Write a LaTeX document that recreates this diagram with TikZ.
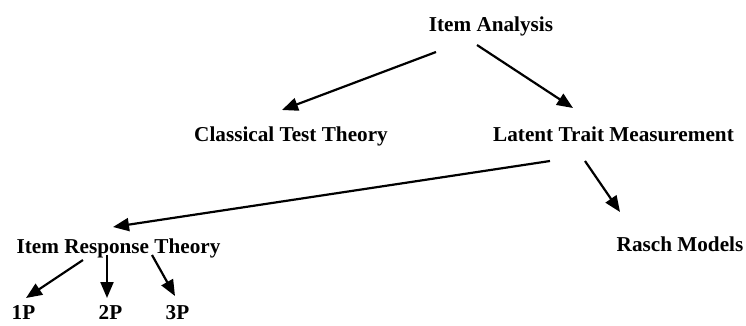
\documentclass[tikz,border=0pt]{standalone}
\usepackage{fontspec}
\setmainfont{Liberation Serif}
\usetikzlibrary{arrows.meta}
\tikzset{
  lbl/.style={font=\fontsize{21.2}{24}\selectfont\bfseries, inner sep=0pt, anchor=base},
  link/.style={->, line width=2.2pt},
}
\begin{document}
\begin{tikzpicture}[x=1pt,y=-1pt,>={Triangle[length=16pt,width=13pt]}]
\useasboundingbox (0,0) rectangle (746,325);
\node[lbl] (ia) at (491,31) {Item Analysis};
\node[lbl] (ctt) at (291,141) {Classical Test Theory};
\node[lbl] (ltm) at (613.5,141) {Latent Trait Measurement};
\node[lbl] (irt) at (118.5,253) {Item Response Theory};
\node[lbl] (rasch) at (680,251) {Rasch Models};
\foreach \n/\x in {1/23.5,2/110.5,3/177.5}
  \node[lbl] (p\n) at (\x,319) {\n P};
\draw[link] ([shift={(-55,21)}]ia.base) -- ([shift={(-9,-31)}]ctt.base);
\draw[link] ([shift={(-14,14)}]ia.base) -- ([shift={(-40.5,-33)}]ltm.base);
\draw[link] ([shift={(-63.5,20)}]ltm.base) -- ([shift={(-5.5,-26)}]irt.base);
\draw[link] ([shift={(-28.5,20)}]ltm.base) -- ([shift={(-60,-39)}]rasch.base);
\draw[link] ([shift={(-35.5,7)}]irt.base) -- ([shift={(2.5,-21)}]p1.base);
\draw[link] ([shift={(-11.5,2)}]irt.base) -- ([shift={(-3.5,-21)}]p2.base);
\draw[link] ([shift={(33.5,2)}]irt.base) -- ([shift={(-2.5,-23)}]p3.base);
\end{tikzpicture}
\end{document}
